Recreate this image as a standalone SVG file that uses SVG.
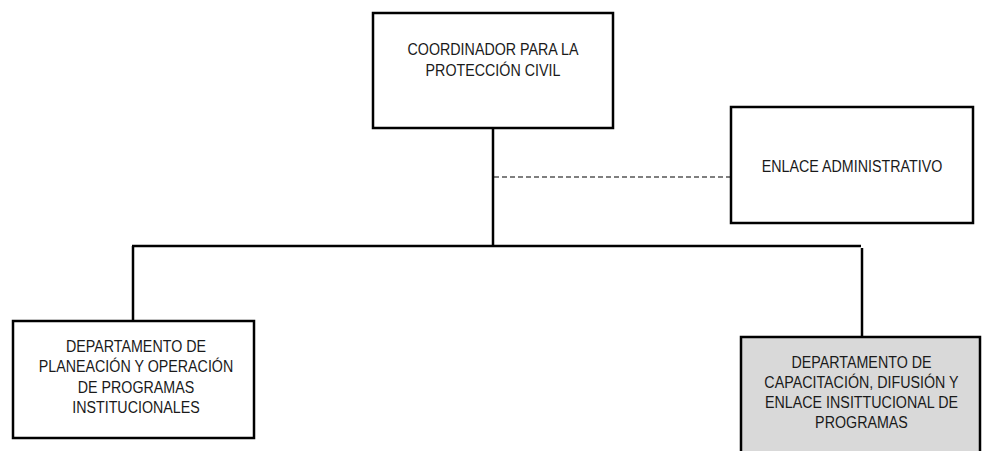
<svg xmlns="http://www.w3.org/2000/svg" width="982" height="451" viewBox="0 0 982 451">
<style>
.box{fill:#fff;stroke:#000;stroke-width:2.5}
.grey{fill:#d9d9d9}
.t{font-family:"Liberation Sans",Arial,sans-serif;font-size:17px;fill:#1a1a1a;text-anchor:middle}
.c{stroke:#000;stroke-width:2.5;fill:none}
.d{stroke:#000;stroke-width:1.2;fill:none;stroke-dasharray:5 3}
</style>
<rect width="982" height="451" fill="#fff"/>
<g id="connectors">
<line class="c" x1="493" y1="128" x2="493" y2="246"/>
<line class="c" x1="132" y1="246" x2="861" y2="246"/>
<line class="c" x1="133" y1="246" x2="133" y2="321"/>
<line class="c" x1="862" y1="248" x2="862" y2="337"/>
<line class="d" x1="494" y1="177" x2="731" y2="177"/>
</g>
<g id="coordinador">
<rect class="box" x="373" y="13" width="240" height="115"/>
<g transform="translate(493 0) scale(0.84 1)">
<text class="t" x="0" y="55.5">COORDINADOR PARA LA</text>
<text class="t" x="0" y="76.5">PROTECCIÓN CIVIL</text>
</g>
</g>
<g id="enlace">
<rect class="box" x="731" y="107" width="242" height="116"/>
<g transform="translate(852 0) scale(0.84 1)">
<text class="t" x="0" y="172.5">ENLACE ADMINISTRATIVO</text>
</g>
</g>
<g id="dep-planeacion">
<rect class="box" x="13" y="321" width="241" height="117"/>
<g transform="translate(136 0) scale(0.84 1)">
<text class="t" x="0" y="352">DEPARTAMENTO DE</text>
<text class="t" x="0" y="372.5">PLANEACIÓN Y OPERACIÓN</text>
<text class="t" x="0" y="393">DE PROGRAMAS</text>
<text class="t" x="0" y="413.5">INSTITUCIONALES</text>
</g>
</g>
<g id="dep-capacitacion">
<rect class="box grey" x="741" y="337" width="239" height="130"/>
<g transform="translate(861.5 0) scale(0.84 1)">
<text class="t" x="0" y="368">DEPARTAMENTO DE</text>
<text class="t" x="0" y="388.3">CAPACITACIÓN, DIFUSIÓN Y</text>
<text class="t" x="0" y="408.3">ENLACE INSITTUCIONAL DE</text>
<text class="t" x="0" y="428.3">PROGRAMAS</text>
</g>
</g>
</svg>
